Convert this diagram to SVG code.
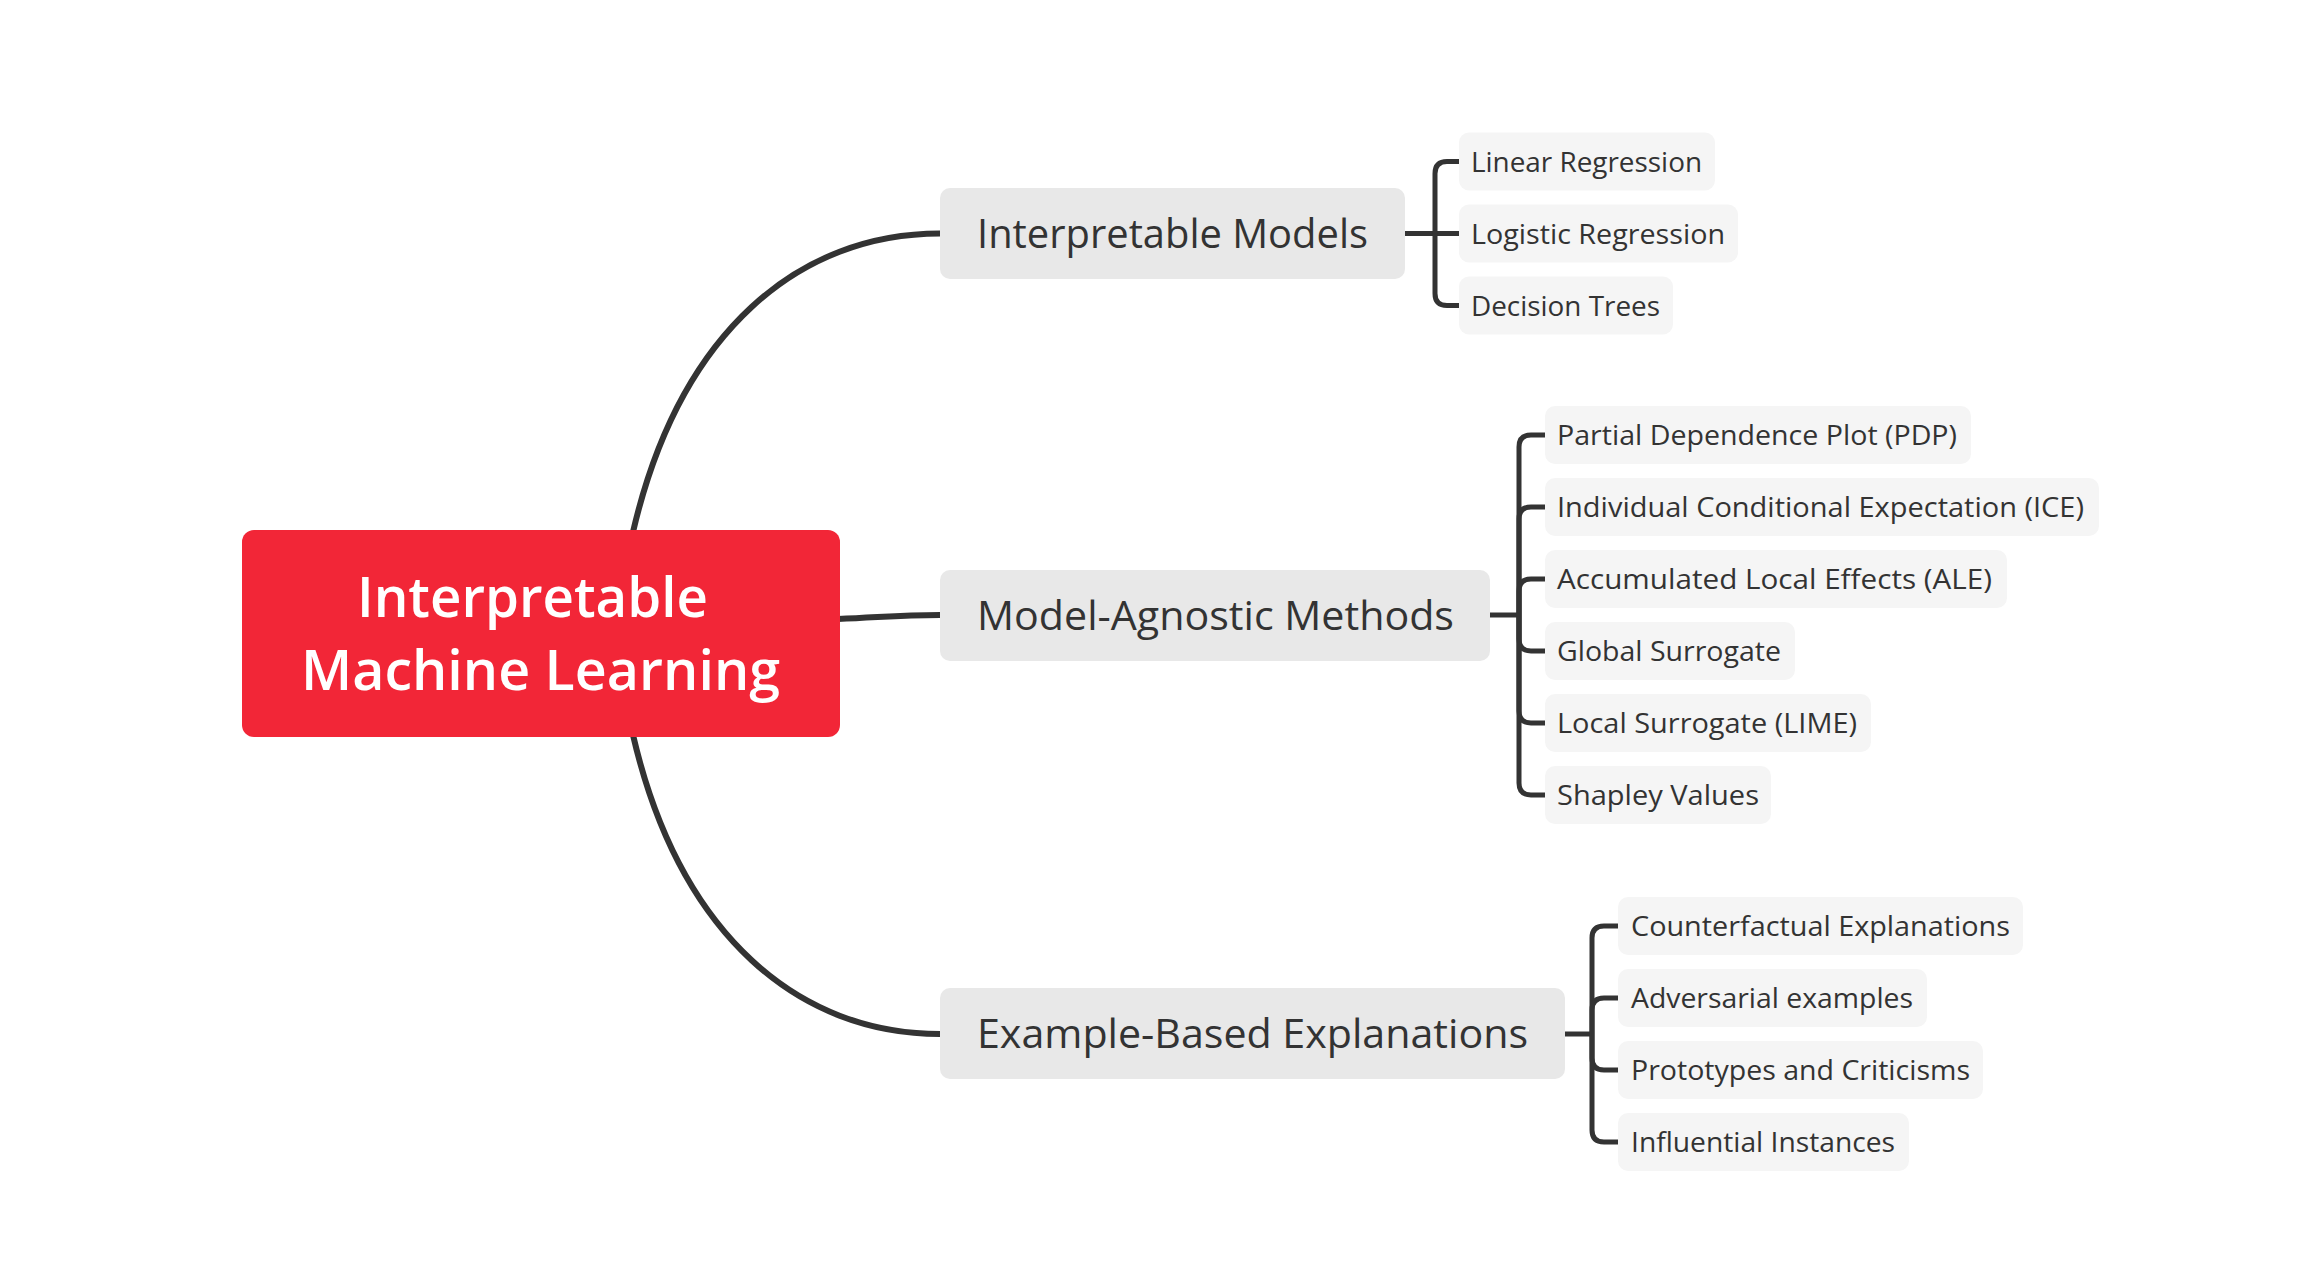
<svg xmlns="http://www.w3.org/2000/svg" width="2298" height="1280" viewBox="0 0 2298 1280">
<style>
.central rect{fill:#F22637}
.central text{fill:#ffffff;font-family:"Open Sans","Liberation Sans",sans-serif;font-size:56px;font-weight:600;text-anchor:start}
.main rect{fill:#E8E8E8}
.main text{fill:#333333;font-family:"Open Sans","Liberation Sans",sans-serif;font-size:40px}
.child rect{fill:#F5F5F5}
.child text{fill:#333333;font-family:"Open Sans","Liberation Sans",sans-serif;font-size:28px}
.conn path{fill:none;stroke:#333333;stroke-linecap:butt;stroke-linejoin:round}
.conn .trunk{stroke-width:6}
.conn .br{stroke-width:5}
</style>
<rect width="2298" height="1280" fill="#ffffff"/>
<g id="connectors" class="conn">
<path class="trunk" d="M633,532 C680,330 800,233.5 940,233.5"/>
<path class="trunk" d="M838,619 C885,617 900,615 940,615"/>
<path class="trunk" d="M633,735 C680,937 800,1034 940,1034"/>
<path class="br" d="M1405,233.5 H1459"/>
<path class="br" d="M1435,233.5 V173.5 Q1435,161.5 1447,161.5 H1459"/>
<path class="br" d="M1435,233.5 V293.5 Q1435,305.5 1447,305.5 H1459"/>
<path class="br" d="M1490,615 H1519"/>
<path class="br" d="M1519,615 V447 Q1519,435 1531,435 H1545"/>
<path class="br" d="M1519,615 V519 Q1519,507 1531,507 H1545"/>
<path class="br" d="M1519,615 V591 Q1519,579 1531,579 H1545"/>
<path class="br" d="M1519,615 V639 Q1519,651 1531,651 H1545"/>
<path class="br" d="M1519,615 V711 Q1519,723 1531,723 H1545"/>
<path class="br" d="M1519,615 V783 Q1519,795 1531,795 H1545"/>
<path class="br" d="M1565,1034 H1592"/>
<path class="br" d="M1592,1034 V938 Q1592,926 1604,926 H1618"/>
<path class="br" d="M1592,1034 V1010 Q1592,998 1604,998 H1618"/>
<path class="br" d="M1592,1034 V1058 Q1592,1070 1604,1070 H1618"/>
<path class="br" d="M1592,1034 V1130 Q1592,1142 1604,1142 H1618"/>
</g>
<g id="central" class="central">
<rect x="242" y="530" width="598" height="207" rx="12"/>
<text x="357" y="617" textLength="351" lengthAdjust="spacingAndGlyphs">Interpretable</text>
<text x="301" y="690" textLength="479" lengthAdjust="spacingAndGlyphs">Machine Learning</text>
</g>
<g id="interpretable-models" class="main">
<rect x="940" y="188" width="465" height="91" rx="10"/>
<text x="977" y="248" textLength="391" lengthAdjust="spacingAndGlyphs">Interpretable Models</text>
</g>
<g id="model-agnostic" class="main">
<rect x="940" y="570" width="550" height="91" rx="10"/>
<text x="977" y="630" textLength="477" lengthAdjust="spacingAndGlyphs">Model-Agnostic Methods</text>
</g>
<g id="example-based" class="main">
<rect x="940" y="988" width="625" height="91" rx="10"/>
<text x="977" y="1048" textLength="551" lengthAdjust="spacingAndGlyphs">Example-Based Explanations</text>
</g>
<g id="linear-regression" class="child">
<rect x="1459" y="132.5" width="256" height="58" rx="10"/>
<text x="1471" y="171.5" textLength="231" lengthAdjust="spacingAndGlyphs">Linear Regression</text>
</g>
<g id="logistic-regression" class="child">
<rect x="1459" y="204.5" width="279" height="58" rx="10"/>
<text x="1471" y="243.5" textLength="254" lengthAdjust="spacingAndGlyphs">Logistic Regression</text>
</g>
<g id="decision-trees" class="child">
<rect x="1459" y="276.5" width="214" height="58" rx="10"/>
<text x="1471" y="315.5" textLength="189" lengthAdjust="spacingAndGlyphs">Decision Trees</text>
</g>
<g id="pdp" class="child">
<rect x="1545" y="406" width="426" height="58" rx="10"/>
<text x="1557" y="445" textLength="400" lengthAdjust="spacingAndGlyphs">Partial Dependence Plot (PDP)</text>
</g>
<g id="ice" class="child">
<rect x="1545" y="478" width="554" height="58" rx="10"/>
<text x="1557" y="517" textLength="527" lengthAdjust="spacingAndGlyphs">Individual Conditional Expectation (ICE)</text>
</g>
<g id="ale" class="child">
<rect x="1545" y="550" width="462" height="58" rx="10"/>
<text x="1557" y="589" textLength="435" lengthAdjust="spacingAndGlyphs">Accumulated Local Effects (ALE)</text>
</g>
<g id="global-surrogate" class="child">
<rect x="1545" y="622" width="250" height="58" rx="10"/>
<text x="1557" y="661" textLength="224" lengthAdjust="spacingAndGlyphs">Global Surrogate</text>
</g>
<g id="lime" class="child">
<rect x="1545" y="694" width="326" height="58" rx="10"/>
<text x="1557" y="733" textLength="300" lengthAdjust="spacingAndGlyphs">Local Surrogate (LIME)</text>
</g>
<g id="shapley" class="child">
<rect x="1545" y="766" width="226" height="58" rx="10"/>
<text x="1557" y="805" textLength="202" lengthAdjust="spacingAndGlyphs">Shapley Values</text>
</g>
<g id="counterfactual" class="child">
<rect x="1618" y="897" width="405" height="58" rx="10"/>
<text x="1631" y="936" textLength="379" lengthAdjust="spacingAndGlyphs">Counterfactual Explanations</text>
</g>
<g id="adversarial" class="child">
<rect x="1618" y="969" width="309" height="58" rx="10"/>
<text x="1631" y="1008" textLength="282" lengthAdjust="spacingAndGlyphs">Adversarial examples</text>
</g>
<g id="prototypes" class="child">
<rect x="1618" y="1041" width="365" height="58" rx="10"/>
<text x="1631" y="1080" textLength="339" lengthAdjust="spacingAndGlyphs">Prototypes and Criticisms</text>
</g>
<g id="influential" class="child">
<rect x="1618" y="1113" width="291" height="58" rx="10"/>
<text x="1631" y="1152" textLength="264" lengthAdjust="spacingAndGlyphs">Influential Instances</text>
</g>
</svg>
